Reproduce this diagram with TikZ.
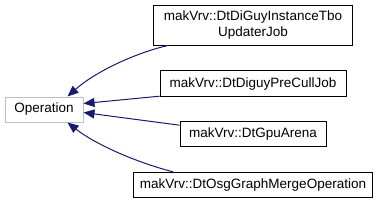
\documentclass[tikz,border=0pt]{standalone}
\usepackage{fontspec}
\setmainfont{Liberation Sans}
\usetikzlibrary{arrows.meta}
\definecolor{edgeblue}{HTML}{191970}
\definecolor{opgray}{HTML}{BFBFBF}
\begin{document}
\begin{tikzpicture}[x=1pt,y=-1pt,
  cls/.style={draw=black, line width=1pt, fill=white, inner sep=0pt, align=center,
    font=\fontsize{13.5}{15.7}\selectfont},
  base/.style={cls, draw=opgray},
  inh/.style={draw=edgeblue, line width=1pt, {Triangle[length=11pt,width=9pt]}-}]
\useasboundingbox (0,0) rectangle (379,204);
\fill[white] (0,0) rectangle (379,204);
\node[base, minimum width=78pt, minimum height=25pt] (op) at (44,109.5) {Operation};
\node[cls, minimum width=199pt, minimum height=40pt] (b1) at (253,25) {makVrv::DtDiGuyInstanceTbo\\UpdaterJob};
\node[cls, minimum width=186pt, minimum height=26pt] (b2) at (253,83.7) {makVrv::DtDiguyPreCullJob};
\node[cls, minimum width=146pt, minimum height=25pt] (b3) at (253,134.2) {makVrv::DtGpuArena};
\node[cls, minimum width=239pt, minimum height=25pt] (b4) at (253,184.8) {makVrv::DtOsgGraphMergeOperation};
\draw[inh] ([xshift=-16pt]op.north east) .. controls (95,72) and (135,53) .. ([xshift=15pt]b1.south west);
\draw[inh] ([yshift=6pt]op.east) -- ([yshift=1pt]b2.south west);
\draw[inh] ([yshift=-3pt]op.east) -- ([yshift=-4pt]b3.north west);
\draw[inh] ([xshift=-16pt]op.south east) .. controls (95,144) and (135,162) .. ([xshift=40pt]b4.north west);
\end{tikzpicture}
\end{document}
